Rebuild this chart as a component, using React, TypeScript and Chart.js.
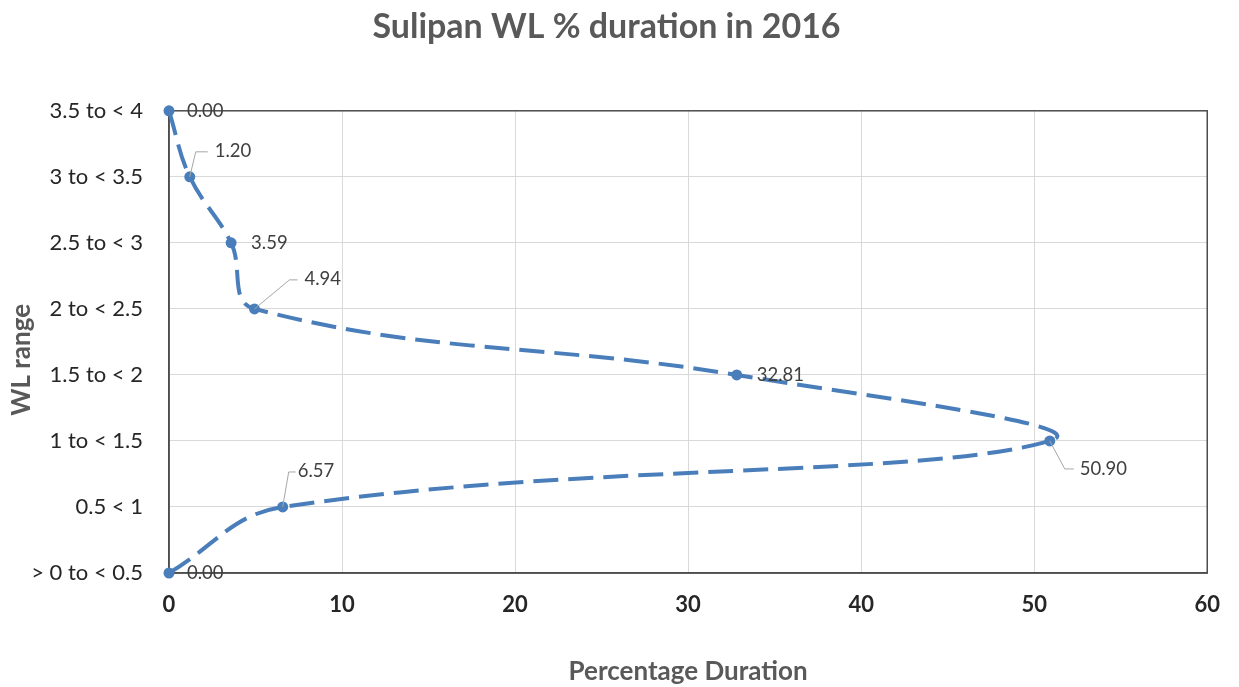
import React, { useEffect, useRef } from "react";
import { Chart, registerables } from "chart.js";

Chart.register(...registerables);

// ---- Data ----
const wlRanges = [
  "3.5 to < 4",
  "3 to < 3.5",
  "2.5 to < 3",
  "2 to < 2.5",
  "1.5 to < 2",
  "1 to < 1.5",
  "0.5 < 1",
  "> 0 to < 0.5",
];
const durationPct = [0.0, 1.2, 3.59, 4.94, 32.81, 50.9, 6.57, 0.0];
const xTickValues = [0, 10, 20, 30, 40, 50, 60];

const chartTitle = "Sulipan WL % duration in 2016";
const xTitle = "Percentage Duration";
const yTitle = "WL range";

// ---- Styles ----
const FONT = "Lato, 'Open Sans', sans-serif";
const SERIES_COLOR = "#4a7ebb";

// data label placement (pixel offsets from the point) and optional leader lines
const labelPlacement = [
  { dx: 18, dy: 0, leader: null },
  { dx: 25, dy: -26, leader: [[6, -25], [18, -25]] },
  { dx: 20, dy: 0, leader: null },
  { dx: 50, dy: -30, leader: [[35, -29], [43, -29]] },
  { dx: 20, dy: 0, leader: null },
  { dx: 30, dy: 28, leader: [[15, 28], [24, 28]] },
  { dx: 15, dy: -36, leader: [[6, -35], [13, -35]] },
  { dx: 18, dy: 0, leader: null },
];

const frameAndLabels = {
  id: "frameAndLabels",
  beforeDatasetsDraw(chart: any) {
    const { ctx, chartArea } = chart;
    ctx.save();
    ctx.strokeStyle = "#4d4d4d";
    ctx.lineWidth = 1.5;
    ctx.strokeRect(
      chartArea.left,
      chartArea.top,
      chartArea.right - chartArea.left,
      chartArea.bottom - chartArea.top
    );
    ctx.restore();
  },
  afterDatasetsDraw(chart: any) {
    const { ctx } = chart;
    const meta = chart.getDatasetMeta(0);
    ctx.save();
    ctx.font = `18.5px ${FONT}`;
    ctx.fillStyle = "#404040";
    ctx.textAlign = "left";
    ctx.textBaseline = "middle";
    meta.data.forEach((pt: any, i: number) => {
      const p = labelPlacement[i];
      if (p.leader) {
        ctx.beginPath();
        ctx.strokeStyle = "#a6a6a6";
        ctx.lineWidth = 1;
        ctx.moveTo(pt.x, pt.y);
        p.leader.forEach(([lx, ly]: number[]) => ctx.lineTo(pt.x + lx, pt.y + ly));
        ctx.stroke();
      }
      ctx.fillText(durationPct[i].toFixed(2), pt.x + p.dx, pt.y + p.dy);
    });
    ctx.restore();
  },
  afterDraw(chart: any) {
    const { ctx, chartArea } = chart;
    // y-axis title, placed like the original (slightly below the plot centre)
    ctx.save();
    ctx.translate(22, (chartArea.top + chartArea.bottom) / 2 + 18);
    ctx.rotate(-Math.PI / 2);
    ctx.font = `bold 26px ${FONT}`;
    ctx.fillStyle = "#595959";
    ctx.textAlign = "center";
    ctx.textBaseline = "middle";
    ctx.fillText(yTitle, 0, 0);
    ctx.restore();
  },
};

export default function App() {
  const canvasRef = useRef<HTMLCanvasElement | null>(null);

  useEffect(() => {
    if (!canvasRef.current) return;
    const n = wlRanges.length;
    const chart = new Chart(canvasRef.current, {
      type: "scatter",
      data: {
        datasets: [
          {
            label: "WL % duration",
            data: durationPct.map((v, i) => ({ x: v, y: n - 1 - i })),
            showLine: true,
            clip: false,
            borderColor: SERIES_COLOR,
            backgroundColor: SERIES_COLOR,
            borderWidth: 4,
            borderDash: [25, 10],
            tension: 0.4,
            pointRadius: 5.5,
            pointBackgroundColor: SERIES_COLOR,
            pointBorderColor: SERIES_COLOR,
            pointBorderWidth: 0,
          },
        ],
      },
      options: {
        responsive: false,
        animation: false,
        layout: { padding: { left: 0, right: 26, top: 0, bottom: 0 } },
        plugins: {
          legend: { display: false },
          tooltip: { enabled: false },
          title: {
            display: true,
            text: chartTitle,
            color: "#595959",
            font: { family: FONT, size: 34, weight: "bold" },
            padding: { top: 7, bottom: 63 },
          },
        },
        scales: {
          x: {
            type: "linear",
            min: 0,
            max: 60,
            afterBuildTicks: (scale: any) => {
              scale.ticks = xTickValues.map((v) => ({ value: v }));
            },
            ticks: {
              color: "#262626",
              font: { family: FONT, size: 22, weight: "bold" },
              padding: 19,
              maxRotation: 0,
            },
            grid: { color: "#d9d9d9", lineWidth: 1, drawTicks: false },
            border: { display: true, color: "#4d4d4d", width: 1.5 },
            title: {
              display: true,
              text: xTitle,
              color: "#595959",
              font: { family: FONT, size: 26, weight: "bold" },
              padding: { top: 0, bottom: 0 },
            },
            afterFit: (scale: any) => {
              scale.height = 114;
            },
          },
          y: {
            type: "linear",
            min: 0,
            max: n - 1,
            ticks: {
              stepSize: 1,
              color: "#262626",
              font: { family: FONT, size: 22 },
              padding: 26,
              callback: (v: any) => wlRanges[n - 1 - Number(v)] ?? "",
            },
            grid: { color: "#d9d9d9", lineWidth: 1, drawTicks: false },
            border: { display: true, color: "#4d4d4d", width: 1.5 },
            title: { display: false },
            afterFit: (scale: any) => {
              scale.width = 169;
            },
          },
        },
      },
      plugins: [frameAndLabels],
    });
    return () => chart.destroy();
  }, []);

  return (
    <div style={{ position: "absolute", left: 0, top: 0, width: 1239, height: 687, background: "#fff" }}>
      <canvas ref={canvasRef} width={1239} height={687} />
    </div>
  );
}
